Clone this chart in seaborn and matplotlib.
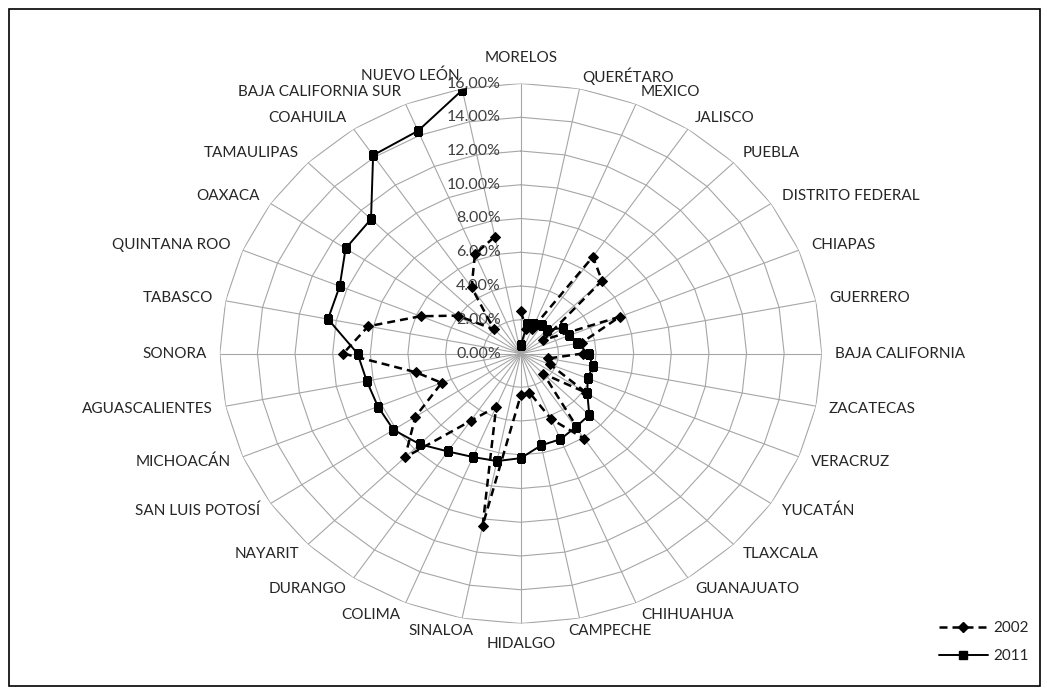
import numpy as np
import pandas as pd
import matplotlib
matplotlib.use("Agg")
import matplotlib.pyplot as plt
import matplotlib.patches as mpatches
from matplotlib.lines import Line2D
from matplotlib.transforms import offset_copy
import seaborn as sns

states = ["MORELOS", "QUERÉTARO", "MEXICO", "JALISCO", "PUEBLA", "DISTRITO FEDERAL",
          "CHIAPAS", "GUERRERO", "BAJA CALIFORNIA", "ZACATECAS", "VERACRUZ", "YUCATÁN",
          "TLAXCALA", "GUANAJUATO", "CHIHUAHUA", "CAMPECHE", "HIDALGO", "SINALOA",
          "COLIMA", "DURANGO", "NAYARIT", "SAN LUIS POTOSÍ", "MICHOACÁN", "AGUASCALIENTES",
          "SONORA", "TABASCO", "QUINTANA ROO", "OAXACA", "TAMAULIPAS", "COAHUILA",
          "BAJA CALIFORNIA SUR", "NUEVO LEÓN"]

v2002 = [2.5, 1.5, 1.6, 6.9, 6.1, 1.45, 5.7, 3.3, 3.3, 1.5, 1.67, 4.2, 1.7, 6.07,
         4.2, 2.36, 2.46, 10.4, 3.42, 4.81, 8.71, 6.74, 4.55, 5.69, 9.44, 8.27, 5.77,
         4.04, 2.02, 4.71, 6.37, 7.06]

v2011 = [0.5, 1.8, 1.9, 2.0, 2.0, 2.7, 2.8, 3.05, 3.6, 3.9, 3.85, 4.25, 5.15, 5.25,
         5.5, 5.55, 6.2, 6.5, 6.64, 6.98, 7.6, 8.14, 8.22, 8.35, 8.68, 10.45, 10.42,
         11.2, 11.26, 14.13, 14.28, 15.92]

series_names = ["2002", "2011"]
r_ticks = [0, 2, 4, 6, 8, 10, 12, 14, 16]
r_tick_labels = ["0.00%", "2.00%", "4.00%", "6.00%", "8.00%", "10.00%", "12.00%", "14.00%", "16.00%"]

sns.set_theme(style="white")
plt.rcParams["font.family"] = ["Lato", "DejaVu Sans"]

W, H = 1047, 692
fig = plt.figure(figsize=(W / 100, H / 100), dpi=100)
cx, cy, rx, ry = 520.8, 353.5, 301, 270
ax = fig.add_axes([(cx - rx) / W, (H - cy - ry) / H, 2 * rx / W, 2 * ry / H], projection="polar")
ax.set_aspect("auto")
ax.set_theta_zero_location("N")
ax.set_theta_direction(-1)

n = len(states)
theta = np.arange(n) * 2 * np.pi / n
theta_c = np.append(theta, theta[0])

ax.set_ylim(0, 16)
ax.set_xticks(theta)
ax.set_xticklabels([])
ax.set_yticks([])
ax.grid(True, axis="x", color="#a6a6a6", lw=0.8)
ax.spines["polar"].set_visible(False)
ax.set_facecolor("none")

# polygonal rings
for lvl in r_ticks[1:]:
    ax.plot(theta_c, [lvl] * (n + 1), color="#a6a6a6", lw=0.8, zorder=1)

df = pd.DataFrame({"theta": np.concatenate([theta_c, theta_c]),
                   "value": list(v2002) + [v2002[0]] + list(v2011) + [v2011[0]],
                   "serie": ["2002"] * (n + 1) + ["2011"] * (n + 1)})

sns.lineplot(data=df[df.serie == "2002"], x="theta", y="value", sort=False, ax=ax,
             color="black", lw=1.8, linestyle=(0, (3.2, 2.0)), marker="D", markersize=5.5,
             markeredgecolor="black", zorder=4, legend=False)
sns.lineplot(data=df[df.serie == "2011"], x="theta", y="value", sort=False, ax=ax,
             color="black", lw=1.4, linestyle="-", marker="s", markersize=6,
             markeredgecolor="black", zorder=5, legend=False)
ax.set_xlabel("")
ax.set_ylabel("")

# radial labels
tr = offset_copy(ax.transData, fig=fig, x=-20, y=0, units="dots")
for lvl, lab in zip(r_ticks, r_tick_labels):
    ax.text(0, lvl, lab, transform=tr, ha="right", va="center", fontsize=11.5, color="#404040", zorder=3)

# category labels
for th, name in zip(theta, states):
    s, c = np.sin(th), np.cos(th)
    off = 13
    dx_extra = 0
    if abs(s) < 0.1:
        ha = "center"
        va = "bottom" if c > 0 else "top"
        if c > 0:
            off = 18
    else:
        ha = "left" if s > 0 else "right"
        va = "center"
        if c < -0.95:
            dx_extra = -14 * np.sign(s)
    t = offset_copy(ax.transData, fig=fig, x=off * s + dx_extra, y=off * c, units="dots")
    ax.text(th, 16, name, transform=t, ha=ha, va=va, fontsize=11, color="#262626")

# legend
handles = [Line2D([], [], color="black", lw=1.8, linestyle=(0, (3.2, 2.0)), marker="D", markersize=5.5),
           Line2D([], [], color="black", lw=1.4, linestyle="-", marker="s", markersize=6)]
fig.legend(handles, series_names, loc="center left", bbox_to_anchor=(925 / W, 1 - 642 / H),
           frameon=False, fontsize=11, handlelength=3.2, handletextpad=0.4, labelspacing=0.9,
           labelcolor="#262626")

fig.add_artist(mpatches.Rectangle((8.5 / W, (H - 685.5) / H), (1040 - 8.5) / W, (685.5 - 8.5) / H,
                                  transform=fig.transFigure, fill=False, lw=1.2, ec="black"))

fig.savefig("out.png", dpi=100, facecolor="white")
